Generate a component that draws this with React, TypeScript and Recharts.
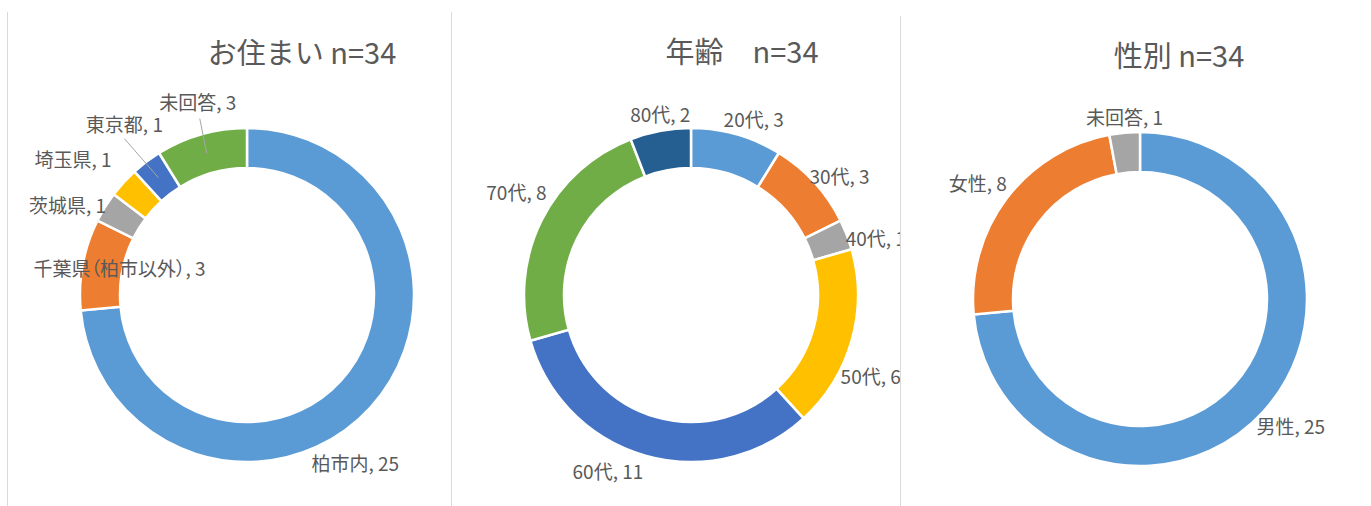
import React from "react";
import { PieChart, Pie, Cell } from "recharts";

// ---- data ----
const residenceNames = ["柏市内", "千葉県（柏市以外）", "茨城県", "埼玉県", "東京都", "未回答"];
const residenceValues = [25, 3, 1, 1, 1, 3];

const ageNames = ["20代", "30代", "40代", "50代", "60代", "70代", "80代"];
const ageValues = [3, 3, 1, 6, 11, 8, 2];

const genderNames = ["男性", "女性", "未回答"];
const genderValues = [25, 8, 1];

const titles = ["お住まい n=34", "年齢　n=34", "性別 n=34"];

// ---- styles ----
const C_BLUE = "#5B9BD5";
const C_ORANGE = "#ED7D31";
const C_GRAY = "#A5A5A5";
const C_YELLOW = "#FFC000";
const C_DBLUE = "#4472C4";
const C_GREEN = "#70AD47";
const C_NAVY = "#255E91";

const residenceColors = [C_BLUE, C_ORANGE, C_GRAY, C_YELLOW, C_DBLUE, C_GREEN];
const ageColors = [C_BLUE, C_ORANGE, C_GRAY, C_YELLOW, C_DBLUE, C_GREEN, C_NAVY];
const genderColors = [C_BLUE, C_ORANGE, C_GRAY];

type LabelLayout = {
  base: "out" | "mid";
  anchor: "start" | "middle" | "end";
  dx: number;
  dy: number;
  leader?: [number, number];
};

const residenceLabels: LabelLayout[] = [
  { base: "out", anchor: "start", dx: -59, dy: 55 },
  { base: "mid", anchor: "middle", dx: 17, dy: 0 },
  { base: "out", anchor: "end", dx: 1, dy: -3 },
  { base: "out", anchor: "end", dx: -12, dy: -24 },
  { base: "mid", anchor: "middle", dx: -34, dy: -54, leader: [0, 15] },
  { base: "mid", anchor: "middle", dx: -9, dy: -52, leader: [2, 17] },
];

const ageLabels: LabelLayout[] = [
  { base: "out", anchor: "middle", dx: 17, dy: -16 },
  { base: "out", anchor: "start", dx: -5, dy: -7 },
  { base: "out", anchor: "start", dx: -1, dy: 3 },
  { base: "out", anchor: "start", dx: -11, dy: 35 },
  { base: "out", anchor: "end", dx: -2, dy: 15 },
  { base: "out", anchor: "end", dx: 5, dy: -29 },
  { base: "out", anchor: "middle", dx: 0, dy: -17 },
];

const genderLabels: LabelLayout[] = [
  { base: "out", anchor: "start", dx: -7, dy: 14 },
  { base: "out", anchor: "end", dx: 0, dy: -16 },
  { base: "out", anchor: "middle", dx: 0, dy: -16 },
];

const FONT = "'Noto Sans CJK JP', 'Noto Sans', sans-serif";
const TEXT_COLOR = "#595959";
const RAD = Math.PI / 180;

function makeLabel(layouts: LabelLayout[]) {
  return (props: any) => {
    const { cx, cy, midAngle, outerRadius, innerRadius, index, name, value } = props;
    const lay = layouts[index];
    if (!lay) return null;
    const r = lay.base === "out" ? outerRadius : (outerRadius + innerRadius) / 2;
    const bx = cx + r * Math.cos(-midAngle * RAD);
    const by = cy + r * Math.sin(-midAngle * RAD);
    const x = bx + lay.dx;
    const y = by + lay.dy;
    return (
      <g>
        {lay.leader && (
          <line
            x1={bx}
            y1={by}
            x2={x + lay.leader[0]}
            y2={y + lay.leader[1]}
            stroke="#A6A6A6"
            strokeWidth={1}
          />
        )}
        <text
          x={x}
          y={y}
          textAnchor={lay.anchor}
          dominantBaseline="central"
          fill={TEXT_COLOR}
          fontSize={19}
          fontFamily={FONT}
          style={{ fontFeatureSettings: '"palt"' }}
        >
          {`${name}, ${value}`}
        </text>
      </g>
    );
  };
}

function Donut(props: {
  names: string[];
  values: number[];
  colors: string[];
  layouts: LabelLayout[];
  left: number;
  width: number;
  cy: number;
  title: string;
  titleX: number;
  titleY: number;
}) {
  const data = props.names.map((n, i) => ({ name: n, value: props.values[i] }));
  return (
    <div style={{ position: "absolute", left: props.left, top: 0, width: props.width, height: 506 }}>
      <PieChart
        width={props.width}
        height={506}
        margin={{ top: 0, right: 0, bottom: 0, left: 0 }}
      >
        <Pie
          data={data}
          dataKey="value"
          nameKey="name"
          cx={240}
          cy={props.cy}
          innerRadius={127}
          outerRadius={167}
          startAngle={90}
          endAngle={-270}
          stroke="#FFFFFF"
          strokeWidth={2.5}
          isAnimationActive={false}
          labelLine={false}
          label={makeLabel(props.layouts)}
        >
          {data.map((d, i) => (
            <Cell key={d.name} fill={props.colors[i]} />
          ))}
        </Pie>
      </PieChart>
      <svg
        width={props.width}
        height={100}
        style={{ position: "absolute", left: 0, top: 0, pointerEvents: "none" }}
      >
        <text
          x={props.titleX}
          y={props.titleY}
          textAnchor="middle"
          dominantBaseline="central"
          fill={TEXT_COLOR}
          fontSize={29}
          fontFamily={FONT}
        >
          {props.title}
        </text>
      </svg>
    </div>
  );
}

export default function App() {
  return (
    <div
      style={{
        position: "absolute",
        left: 0,
        top: 0,
        width: 1371,
        height: 506,
        background: "#FFFFFF",
        overflow: "hidden",
      }}
    >
      <Donut
        names={residenceNames}
        values={residenceValues}
        colors={residenceColors}
        layouts={residenceLabels}
        left={7}
        width={444}
        cy={295}
        title={titles[0]}
        titleX={295}
        titleY={51}
      />
      <Donut
        names={ageNames}
        values={ageValues}
        colors={ageColors}
        layouts={ageLabels}
        left={451}
        width={449}
        cy={295}
        title={titles[1]}
        titleX={291}
        titleY={50}
      />
      <Donut
        names={genderNames}
        values={genderValues}
        colors={genderColors}
        layouts={genderLabels}
        left={900}
        width={471}
        cy={299}
        title={titles[2]}
        titleX={279}
        titleY={54}
      />
      <div style={{ position: "absolute", left: 7, top: 12, width: 1, height: 494, background: "#D9D9D9" }} />
      <div style={{ position: "absolute", left: 451, top: 12, width: 1, height: 494, background: "#D9D9D9" }} />
      <div style={{ position: "absolute", left: 900, top: 16, width: 1, height: 490, background: "#D9D9D9" }} />
    </div>
  );
}
